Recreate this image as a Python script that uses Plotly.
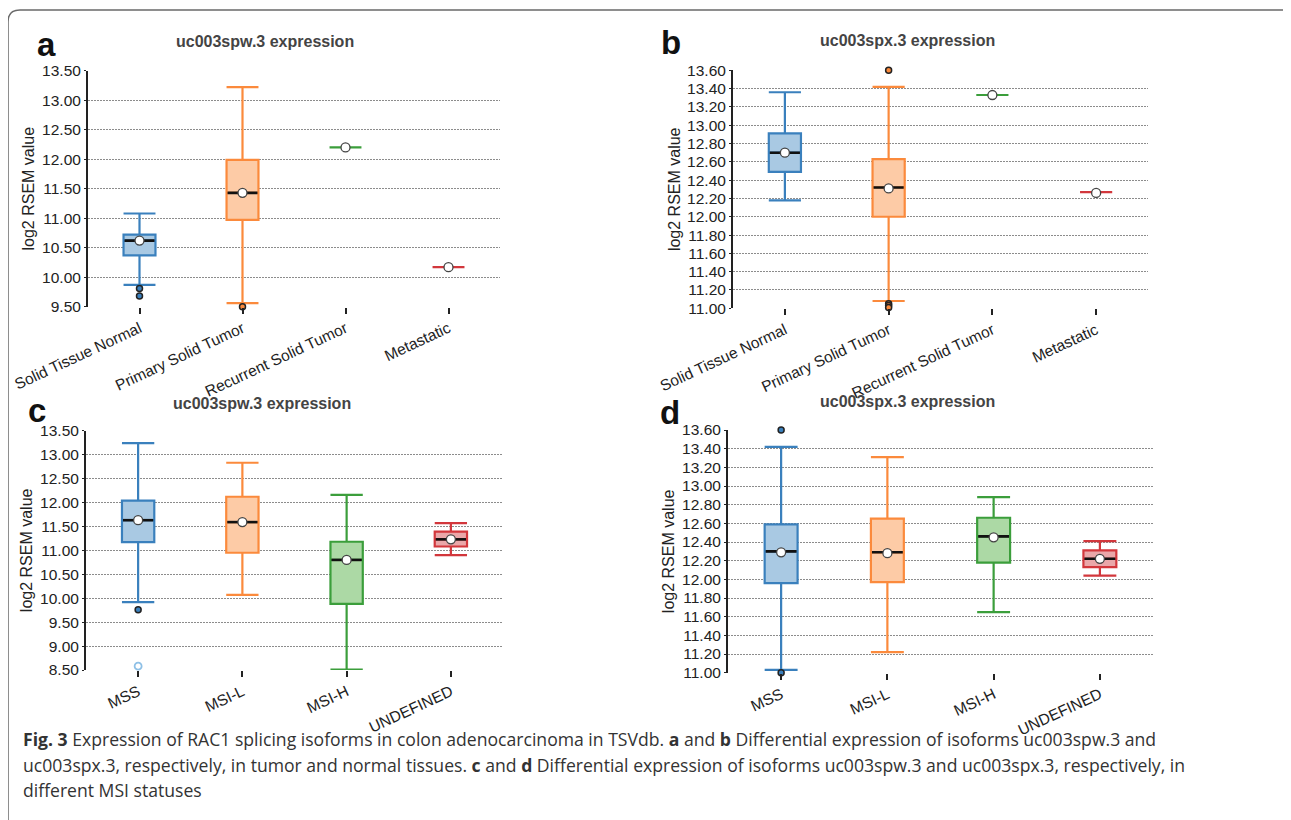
import plotly.graph_objects as go

W, H = 1291, 820
OFF = 8  # page body margin of the html page

CATS_TISSUE = ["Solid Tissue Normal", "Primary Solid Tumor", "Recurrent Solid Tumor", "Metastatic"]
CATS_MSI = ["MSS", "MSI-L", "MSI-H", "UNDEFINED"]
LINE_COLORS = ["#3a80bd", "#fb8a3c", "#3b9e3b", "#d2373c"]
FILL_COLORS = ["#a9c9e3", "#fdcba6", "#acd9a5", "#eaa7a9"]

# Panel a: uc003spw.3 by tissue type
A_LOW = [9.87, 9.56, 12.20, 10.17]
A_Q1 = [10.37, 10.97, 12.20, 10.17]
A_MED = [10.62, 11.43, 12.20, 10.17]
A_Q3 = [10.72, 11.99, 12.20, 10.17]
A_HIGH = [11.08, 13.22, 12.20, 10.17]
A_MEAN = [10.62, 11.43, 12.20, 10.17]
A_OUT_X = [0, 0, 1]
A_OUT_Y = [9.81, 9.68, 9.50]

# Panel b: uc003spx.3 by tissue type
B_LOW = [12.18, 11.08, 13.33, 12.27]
B_Q1 = [12.49, 12.00, 13.33, 12.27]
B_MED = [12.70, 12.32, 13.33, 12.27]
B_Q3 = [12.91, 12.63, 13.33, 12.27]
B_HIGH = [13.36, 13.42, 13.33, 12.27]
B_MEAN = [12.70, 12.31, 13.33, 12.26]
B_OUT_X = [1, 1, 1, 1]
B_OUT_Y = [13.60, 11.05, 11.03, 11.01]

# Panel c: uc003spw.3 by MSI status
C_LOW = [9.92, 10.07, 8.51, 10.90]
C_Q1 = [11.17, 10.95, 9.88, 11.08]
C_MED = [11.63, 11.59, 10.80, 11.23]
C_Q3 = [12.04, 12.12, 11.18, 11.39]
C_HIGH = [13.24, 12.83, 12.16, 11.57]
C_MEAN = [11.63, 11.59, 10.80, 11.23]
C_OUT_X = [0]
C_OUT_Y = [9.76]
C_FAR_X = [0]
C_FAR_Y = [8.58]

# Panel d: uc003spx.3 by MSI status
D_LOW = [11.03, 11.22, 11.65, 12.04]
D_Q1 = [11.96, 11.97, 12.18, 12.13]
D_MED = [12.30, 12.29, 12.46, 12.22]
D_Q3 = [12.59, 12.65, 12.66, 12.31]
D_HIGH = [13.42, 13.31, 12.88, 12.41]
D_MEAN = [12.29, 12.28, 12.45, 12.22]
D_OUT_X = [0, 0]
D_OUT_Y = [13.60, 11.00]

TITLES = ["uc003spw.3 expression", "uc003spx.3 expression",
          "uc003spw.3 expression", "uc003spx.3 expression"]
LETTERS = ["a", "b", "c", "d"]
CAPTION = [
    "<b>Fig. 3</b> Expression of RAC1 splicing isoforms in colon adenocarcinoma in TSVdb. <b>a</b> and <b>b</b> Differential expression of isoforms uc003spw.3 and",
    "uc003spx.3, respectively, in tumor and normal tissues. <b>c</b> and <b>d</b> Differential expression of isoforms uc003spw.3 and uc003spx.3, respectively, in",
    "different MSI statuses",
]

SANS = "Liberation Sans, Arial, sans-serif"
BOXW = 0.31


def px(x):
    return (x - OFF) / W


def py(y):
    return 1 - (y - OFF) / H


# pixel boxes of the four plot areas: (left, right, top, bottom)
PANELS = [
    dict(cats=CATS_TISSUE, low=A_LOW, q1=A_Q1, med=A_MED, q3=A_Q3, high=A_HIGH, mean=A_MEAN,
         ox=A_OUT_X, oy=A_OUT_Y, fx=[], fy=[], rng=[9.5, 13.5], dt=0.5,
         box=(88, 500, 70.7, 306.7), title_xy=(265, 41), letter_xy=(35, 44)),
    dict(cats=CATS_TISSUE, low=B_LOW, q1=B_Q1, med=B_MED, q3=B_Q3, high=B_HIGH, mean=B_MEAN,
         ox=B_OUT_X, oy=B_OUT_Y, fx=[], fy=[], rng=[11.0, 13.6], dt=0.2,
         box=(733, 1148, 70.3, 308.3), title_xy=(907, 40), letter_xy=(659, 42)),
    dict(cats=CATS_MSI, low=C_LOW, q1=C_Q1, med=C_MED, q3=C_Q3, high=C_HIGH, mean=C_MEAN,
         ox=C_OUT_X, oy=C_OUT_Y, fx=C_FAR_X, fy=C_FAR_Y, rng=[8.5, 13.5], dt=0.5,
         box=(86, 503, 430.7, 670), title_xy=(262, 403), letter_xy=(26, 410)),
    dict(cats=CATS_MSI, low=D_LOW, q1=D_Q1, med=D_MED, q3=D_Q3, high=D_HIGH, mean=D_MEAN,
         ox=D_OUT_X, oy=D_OUT_Y, fx=[], fy=[], rng=[11.0, 13.6], dt=0.2,
         box=(728, 1153, 430, 672.7), title_xy=(907, 401), letter_xy=(658, 412)),
]

fig = go.Figure()
layout = dict(width=W, height=H, margin=dict(l=0, r=0, t=0, b=0, autoexpand=False),
              paper_bgcolor="white", plot_bgcolor="white", showlegend=False,
              annotations=[], shapes=[])

for k, p in enumerate(PANELS):
    n = k + 1
    xa = "x" if n == 1 else f"x{n}"
    ya = "y" if n == 1 else f"y{n}"
    l, r, t, b = p["box"]
    for i in range(len(p["cats"])):
        fig.add_trace(go.Box(
            x=[i], q1=[p["q1"][i]], median=[p["med"][i]], q3=[p["q3"][i]],
            lowerfence=[p["low"][i]], upperfence=[p["high"][i]],
            width=BOXW, whiskerwidth=1, boxpoints=False,
            line=dict(color=LINE_COLORS[i], width=2.2),
            fillcolor=FILL_COLORS[i], hoverinfo="skip",
            xaxis=xa, yaxis=ya))
        if p["q3"][i] > p["q1"][i]:
            fig.add_trace(go.Scatter(
                x=[i - BOXW / 2 + 0.01, i + BOXW / 2 - 0.01], y=[p["med"][i], p["med"][i]],
                mode="lines", line=dict(color="#111111", width=2.6),
                hoverinfo="skip", xaxis=xa, yaxis=ya))
    # outliers
    if p["ox"]:
        fig.add_trace(go.Scatter(
            x=p["ox"], y=p["oy"], mode="markers", cliponaxis=False,
            marker=dict(size=6, color=[LINE_COLORS[j] for j in p["ox"]],
                        line=dict(color="#222222", width=1.5)),
            hoverinfo="skip", xaxis=xa, yaxis=ya))
    if p["fx"]:
        fig.add_trace(go.Scatter(
            x=p["fx"], y=p["fy"], mode="markers", cliponaxis=False,
            marker=dict(size=7, color="white",
                        line=dict(color="#8ec0e6", width=1.8)),
            hoverinfo="skip", xaxis=xa, yaxis=ya))
    # mean markers
    fig.add_trace(go.Scatter(
        x=list(range(len(p["cats"]))), y=p["mean"], mode="markers", cliponaxis=False,
        marker=dict(size=9, color="white", line=dict(color="#444444", width=1.3)),
        hoverinfo="skip", xaxis=xa, yaxis=ya))

    layout["xaxis" if n == 1 else f"xaxis{n}"] = dict(
        domain=[px(l), px(r)], anchor=ya, range=[-0.5, len(p["cats"]) - 0.5],
        automargin=False,
        tickmode="array", tickvals=list(range(len(p["cats"]))), ticktext=p["cats"],
        tickangle=-25, ticks="outside", ticklen=6, tickwidth=2, tickcolor="#222",
        showgrid=False, zeroline=False, showline=False,
        tickfont=dict(family=SANS, size=15.5, color="#222"))
    layout["yaxis" if n == 1 else f"yaxis{n}"] = dict(
        domain=[py(b), py(t)], anchor=xa, range=p["rng"], dtick=p["dt"],
        automargin=False,
        tick0=p["rng"][0], tickformat=".2f",
        showgrid=True, gridcolor="#8c8c8c", griddash="2px,1px", gridwidth=1,
        zeroline=False, showline=True, linecolor="#222", linewidth=2,
        ticks="outside", ticklen=2, tickcolor="#222",
        tickfont=dict(family=SANS, size=15.5, color="#222"),
        title=dict(text="log2 RSEM value", standoff=3,
                   font=dict(family=SANS, size=16, color="#222")))
    tx, ty = p["title_xy"]
    layout["annotations"].append(dict(
        text="<b>" + TITLES[k] + "</b>", x=px(tx), y=py(ty), xref="paper", yref="paper",
        xanchor="center", yanchor="middle", showarrow=False,
        font=dict(family=SANS, size=16, color="#444")))
    lx, ly = p["letter_xy"]
    layout["annotations"].append(dict(
        text="<b>" + LETTERS[k] + "</b>", x=px(lx), y=py(ly), xref="paper", yref="paper",
        xanchor="left", yanchor="middle", showarrow=False,
        font=dict(family=SANS, size=33, color="#111")))

for j, line in enumerate(CAPTION):
    layout["annotations"].append(dict(
        text=line, x=px(21), y=py(739 + 25.5 * j), xref="paper", yref="paper",
        xanchor="left", yanchor="middle", showarrow=False, align="left",
        font=dict(family="Open Sans, Noto Sans, sans-serif", size=17.6, color="#333")))

# figure frame with a rounded top-left corner
frame = (f"M {px(8)},{py(840)} L {px(8)},{py(22)} Q {px(8)},{py(10)} {px(20)},{py(10)} "
         f"L {px(1320)},{py(10)}")
layout["shapes"].append(dict(type="path", path=frame, xref="paper", yref="paper",
                             line=dict(color="#6a6a6a", width=1.5)))

fig.update_layout(**layout)
fig.write_html("out.html")
